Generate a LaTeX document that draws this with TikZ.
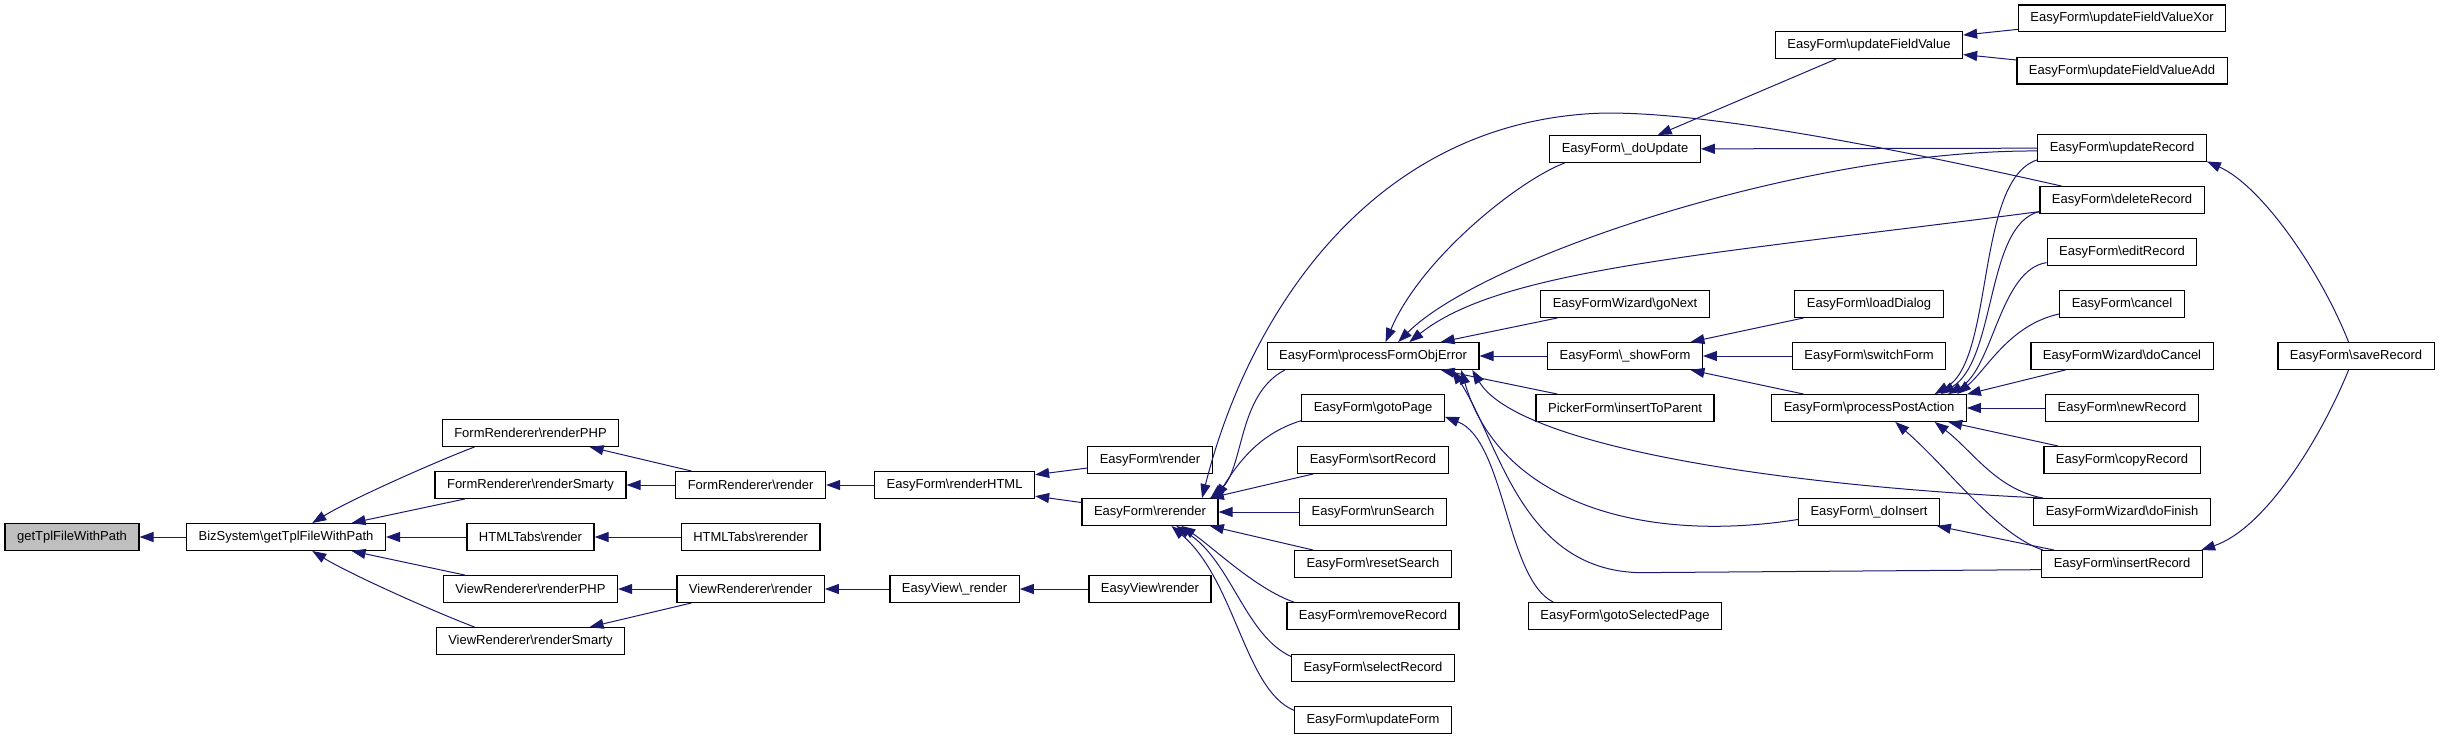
\documentclass[tikz,border=0pt]{standalone}
\usepackage{fontspec}
\setmainfont{Liberation Sans}
\usepackage{tikz}
\usetikzlibrary{arrows.meta}
\definecolor{edgeblue}{HTML}{191970}
\definecolor{rootgrey}{HTML}{BFBFBF}
\newcommand{\nsep}{\textbackslash}

\begin{document}
\begin{tikzpicture}[x=1pt,y=-1pt, every node/.style={font=\fontsize{13}{15}\selectfont},
  fn/.style={draw=black, line width=1.2pt, fill=white, minimum height=26.7pt, inner xsep=12pt, inner ysep=0pt},
  call/.style={edgeblue, line width=1pt, -{Triangle[length=14pt,width=10pt]}}]
\useasboundingbox (0,0) rectangle (2440,740);
% nodes, one column per call depth
\node[fn, fill=rootgrey] (root) at (72,537) {getTplFileWithPath};
\node[fn] (biz) at (286,537) {BizSystem\nsep getTplFileWithPath};
\foreach \n/\y/\t in {frPHP/433/FormRenderer\nsep renderPHP, frSmarty/485/FormRenderer\nsep renderSmarty,
    htRender/537/HTMLTabs\nsep render, vrPHP/589/ViewRenderer\nsep renderPHP, vrSmarty/641/ViewRenderer\nsep renderSmarty}
  \node[fn] (\n) at (530.5,\y) {\t};
\foreach \n/\y/\t in {frRender/485/FormRenderer\nsep render, htRerender/537/HTMLTabs\nsep rerender, vrRender/589/ViewRenderer\nsep render}
  \node[fn] (\n) at (750.6,\y) {\t};
\node[fn] (renderHTML) at (954.6,485) {EasyForm\nsep renderHTML};
\node[fn] (viewRender) at (954.6,589) {EasyView\nsep\_render};
\foreach \n/\y/\t in {efRender/460/EasyForm\nsep render, efRerender/512/EasyForm\nsep rerender, evRender/589/EasyView\nsep render}
  \node[fn] (\n) at (1150,\y) {\t};
\foreach \n/\y/\t in {pfoe/356/processFormObjError, gotoPage/408/gotoPage, sortRecord/460/sortRecord, runSearch/512/runSearch,
    resetSearch/564/resetSearch, removeRecord/616/removeRecord, selectRecord/668/selectRecord, updateForm/720/updateForm}
  \node[fn] (\n) at (1373,\y) {EasyForm\nsep\t};
\foreach \n/\y/\t in {doUpdate/149/EasyForm\nsep\_doUpdate, goNext/304/EasyFormWizard\nsep goNext, showForm/356/EasyForm\nsep\_showForm,
    toParent/408/PickerForm\nsep insertToParent, selectedPage/616/EasyForm\nsep gotoSelectedPage}
  \node[fn] (\n) at (1625,\y) {\t};
\foreach \n/\y/\t in {fieldValue/45/EasyForm\nsep updateFieldValue, loadDialog/304/EasyForm\nsep loadDialog, switchForm/356/EasyForm\nsep switchForm,
    postAction/408/EasyForm\nsep processPostAction, doInsert/512/EasyForm\nsep\_doInsert}
  \node[fn] (\n) at (1869,\y) {\t};
\foreach \n/\y/\t in {valueXor/18.4/EasyForm\nsep updateFieldValueXor, valueAdd/70.7/EasyForm\nsep updateFieldValueAdd,
    updateRecord/148/EasyForm\nsep updateRecord, deleteRecord/200/EasyForm\nsep deleteRecord, editRecord/252/EasyForm\nsep editRecord,
    cancel/304/EasyForm\nsep cancel, doCancel/356/EasyFormWizard\nsep doCancel, newRecord/408/EasyForm\nsep newRecord,
    copyRecord/460/EasyForm\nsep copyRecord, doFinish/512/EasyFormWizard\nsep doFinish, insertRecord/564/EasyForm\nsep insertRecord}
  \node[fn] (\n) at (2122,\y) {\t};
\node[fn] (saveRecord) at (2356,356) {EasyForm\nsep saveRecord};
% straight calls
\foreach \a/\b in {biz/root, frSmarty/biz, htRender/biz, vrPHP/biz, frRender/frPHP, frRender/frSmarty, htRerender/htRender,
    vrRender/vrPHP, vrRender/vrSmarty, renderHTML/frRender, viewRender/vrRender, efRender/renderHTML, efRerender/renderHTML,
    evRender/viewRender, sortRecord/efRerender, runSearch/efRerender, resetSearch/efRerender, goNext/pfoe, showForm/pfoe,
    toParent/pfoe, loadDialog/showForm, switchForm/showForm, postAction/showForm, fieldValue/doUpdate, updateRecord/doUpdate,
    valueXor/fieldValue, valueAdd/fieldValue, newRecord/postAction, insertRecord/doInsert, doCancel/postAction.8,
    copyRecord/postAction.-10}
  \draw[call] (\a) -- (\b);
% curved calls
\draw[call] (frPHP.194) .. controls +(-37,14) and +(39,-24) .. (biz.28);
\draw[call] (vrSmarty.166) .. controls +(-37,-14) and +(39,24) .. (biz.-28);
\draw[call] (pfoe.189) .. controls +(-48,25) and +(34,-29) .. (efRerender.13);
\draw[call] (deleteRecord.167) .. controls +(-164,-37) and +(102,-4) .. ++(-466,-72.7)
  .. controls +(-228,11) and +(45,-179) .. (efRerender.15);
\draw[call] (gotoPage.190) .. controls +(-46,14) and +(19,-29) .. (efRerender.12);
\draw[call] (removeRecord.170) .. controls +(-38,-13) and +(30,20) .. (efRerender.-24);
\draw[call] (selectRecord.172) .. controls +(-46,-21) and +(55,35) .. (efRerender.-28);
\draw[call] (updateForm.173) .. controls +(-49,-20) and +(64,55) .. (efRerender.-33);
\draw[call] (doUpdate.193) .. controls +(-47,18) and +(35,-83) .. (pfoe.48);
\draw[call] (updateRecord.182) .. controls +(-237,-1) and +(83,-83) .. (pfoe.29);
\draw[call] (deleteRecord.188) .. controls +(-339,44) and +(92,-73) .. (pfoe.21);
\draw[call] (doFinish.170) .. controls +(-297,-14) and +(42,71) .. (pfoe.-8);
\draw[call] (doInsert.186) .. controls +(-158,25) and +(38,131) .. (pfoe.-9);
\draw[call] (insertRecord.184) -- ++(-402,3) .. controls +(-119,-3) and +(47,71) .. (pfoe.-10);
\draw[call] (selectedPage.169) .. controls +(-47,-23) and +(60,23) .. (gotoPage.-7);
\draw[call] (updateRecord.188) .. controls +(-62,20) and +(60,-35) .. (postAction.12);
\draw[call] (deleteRecord.188) .. controls +(-54,13) and +(56,-35) .. (postAction.11);
\draw[call] (editRecord.188) .. controls +(-47,7) and +(45,-25) .. (postAction.10);
\draw[call] (cancel.189) .. controls +(-50,11) and +(30,-25) .. (postAction.9);
\draw[call] (doFinish.170) .. controls +(-47,-9) and +(38,29) .. (postAction.-12);
\draw[call] (insertRecord.170) .. controls +(-47,-16) and +(56,49) .. (postAction.-28);
\draw[call] (saveRecord.118) .. controls +(-29,-73) and +(54,24) .. (updateRecord.-9);
\draw[call] (saveRecord.242) .. controls +(-29,71) and +(63,-21) .. (insertRecord.10);
\end{tikzpicture}
\end{document}
